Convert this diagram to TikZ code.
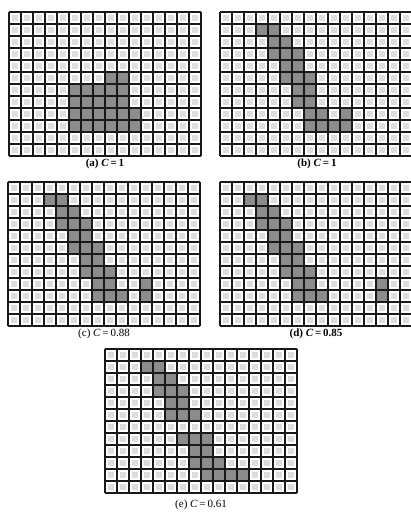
\documentclass[tikz,border=0pt]{standalone}
\usepackage{fontspec}
\setmainfont{Liberation Serif}
\definecolor{cellgray}{HTML}{DDDDE0}
\definecolor{shadegray}{HTML}{8C8C8C}
\tikzset{
  gridline/.style={line width=1.2pt, black!90},
  caption/.style={font=\fontsize{11}{13}\selectfont, inner sep=0pt, anchor=center}
}
\newcommand\mygrid[3]{%
  \begin{scope}[shift={(#1,#2)}]
    \fill[white] (0,0) rectangle (192,144);
    \foreach \c in {0,...,15}{\foreach \r in {0,...,11}{\fill[cellgray] (\c*12+2.8,\r*12+2.8) rectangle ++(6.4,6.4);}}
    \foreach \c/\r in {#3}{\fill[shadegray] (\c*12,\r*12) rectangle ++(12,12);}
    \foreach \c in {0,...,16}{\draw[gridline] (\c*12,0) -- (\c*12,144);}
    \foreach \r in {0,...,12}{\draw[gridline] (0,\r*12) -- (192,\r*12);}
  \end{scope}}
\begin{document}
\begin{tikzpicture}[x=1pt,y=-1pt]
\useasboundingbox (0,0) rectangle (411,512);
\fill[white] (0,0) rectangle (411,512);
% (a)
\mygrid{9}{12}{8/5,9/5,5/6,6/6,7/6,8/6,9/6,5/7,6/7,7/7,8/7,9/7,5/8,6/8,7/8,8/8,9/8,10/8,5/9,6/9,7/9,8/9,9/9,10/9}
\node[caption] (capa) at (105,164) {\textbf{(a) \textit{C}\,=\,1}};
% (b)
\mygrid{220}{12}{3/1,4/1,4/2,5/2,4/3,5/3,6/3,5/4,6/4,5/5,6/5,7/5,6/6,7/6,6/7,7/7,7/8,8/8,10/8,7/9,8/9,9/9,10/9}
\node[caption] (capb) at (317,164) {\textbf{(b) \textit{C}\,=\,1}};
% (c)
\mygrid{8}{182}{3/1,4/1,4/2,5/2,4/3,5/3,6/3,5/4,6/4,5/5,6/5,7/5,6/6,7/6,6/7,7/7,8/7,7/8,8/8,11/8,7/9,8/9,9/9,11/9}
\node[caption] (capc) at (104,334) {(c) \textit{C}\,=\,0.88};
% (d)
\mygrid{220}{182}{2/1,3/1,3/2,4/2,3/3,4/3,5/3,4/4,5/4,4/5,5/5,6/5,5/6,6/6,5/7,6/7,7/7,6/8,7/8,13/8,6/9,7/9,8/9,13/9}
\node[caption] (capd) at (316,334) {\textbf{(d) \textit{C}\,=\,0.85}};
% (e)
\mygrid{105}{349}{3/1,4/1,4/2,5/2,4/3,5/3,6/3,5/4,6/4,5/5,6/5,7/5,6/7,7/7,8/7,7/8,8/8,7/9,8/9,9/9,8/10,9/10,10/10,11/10}
\node[caption] (cape) at (201,505) {(e) \textit{C}\,=\,0.61};
\end{tikzpicture}
\end{document}
